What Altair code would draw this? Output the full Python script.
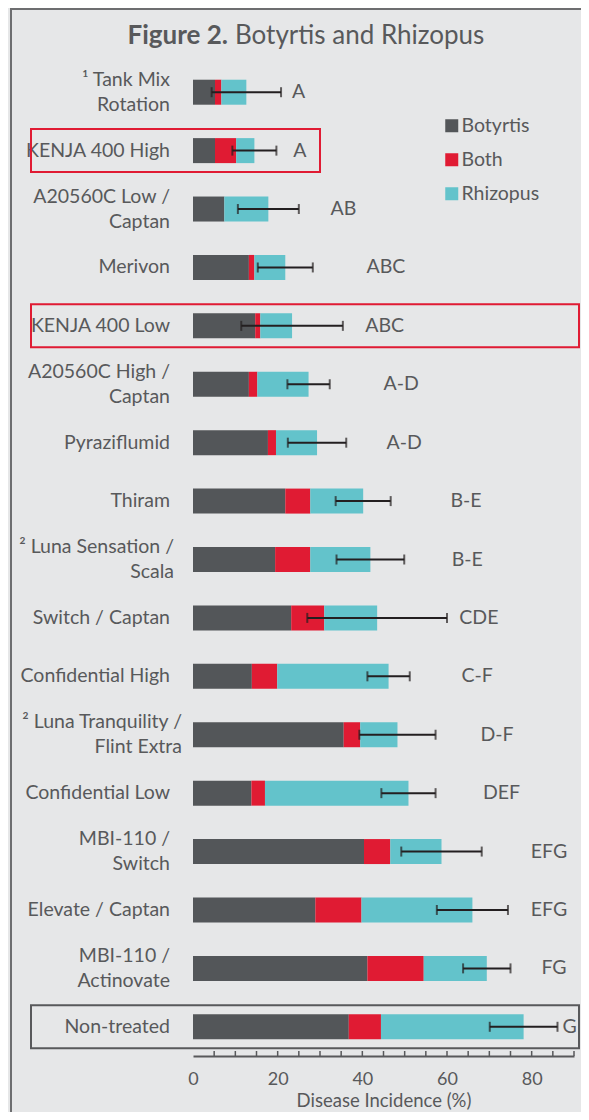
import altair as alt
import pandas as pd

# ---------------- data ----------------
categories = [
    "¹ Tank Mix|Rotation", "KENJA 400 High", "A20560C Low /|Captan", "Merivon",
    "KENJA 400 Low", "A20560C High /|Captan", "Pyraziflumid", "Thiram",
    "² Luna Sensation /|Scala", "Switch / Captan", "Confidential High",
    "² Luna Tranquility /|Flint Extra", "Confidential Low", "MBI-110 /|Switch",
    "Elevate / Captan", "MBI-110 /|Actinovate", "Non-treated",
]
botrytis = [5.2, 5.2, 7.4, 13.2, 14.7, 13.2, 17.7, 21.8, 19.4, 23.2, 13.9, 35.6, 13.8, 40.4, 28.9, 41.2, 36.8]
both = [1.5, 5.0, 0.0, 1.3, 1.2, 2.0, 1.9, 5.9, 8.3, 7.8, 6.0, 3.9, 3.2, 6.2, 10.9, 13.3, 7.6]
rhizopus = [5.9, 4.3, 10.4, 7.3, 7.5, 12.1, 9.7, 12.5, 14.2, 12.5, 26.3, 8.8, 33.9, 12.1, 26.2, 14.9, 33.7]
err = [8.2, 5.2, 7.2, 6.5, 12.0, 5.0, 6.9, 6.5, 8.0, 16.5, 5.0, 9.0, 6.4, 9.5, 8.4, 5.6, 8.0]
letters = ["A", "A", "AB", "ABC", "ABC", "A-D", "A-D", "B-E", "B-E", "CDE", "C-F", "D-F", "DEF", "EFG", "EFG", "FG", "G"]
letter_x = [23.4, 23.7, 32.5, 41.0, 40.7, 45.0, 45.7, 60.8, 61.1, 62.9, 63.4, 67.9, 68.5, 79.8, 79.8, 82.3, 87.3]
series = ["Botyrtis", "Both", "Rhizopus"]
colors = ["#535659", "#e01b33", "#63c3cb"]
label_values = [0, 20, 40, 60, 80]
minor_ticks = [5, 10, 15, 20, 25, 30, 35, 40, 45, 50, 55, 60, 65, 70, 75, 80, 85, 90]
red_boxes_short = ["KENJA 400 High"]
red_boxes_long = ["KENJA 400 Low"]
gray_boxes = ["Non-treated"]
luna_a = ["² Luna Sensation /|Scala"]
luna_b = ["² Luna Tranquility /|Flint Extra"]

# ---------------- tables ----------------
rows = []
for i, c in enumerate(categories):
    for k, (s, v) in enumerate(zip(series, [botrytis[i], both[i], rhizopus[i]])):
        rows.append({"cat": c, "series": s, "value": v, "ord": k})
long_df = pd.DataFrame(rows)

summary = pd.DataFrame({"cat": categories, "letter": letters, "lx": letter_x})
summary["total"] = [b + o + r for b, o, r in zip(botrytis, both, rhizopus)]
summary["lo"] = summary["total"] - pd.Series(err)
summary["hi"] = summary["total"] + pd.Series(err)

ticks_df = pd.DataFrame({"t": minor_ticks})
one = pd.DataFrame({"k": [0]})

W, H = 381, 993
TXT = "#58595b"
FONT = "Lato"
FS = 19.5

yscale = alt.Scale(domain=categories, paddingInner=0.57, paddingOuter=0.285)
xscale = alt.Scale(domain=[0, 90], nice=False, zero=True)

xaxis = alt.Axis(values=label_values, ticks=False, grid=False,
                 domainColor=TXT, domainWidth=2, labelFlush=False,
                 labelFontSize=18, labelColor=TXT, labelFont=FONT,
                 labelPadding=14, titleFontSize=18.5,
                 titleFontWeight="normal", titleColor=TXT,
                 titleFont=FONT, titlePadding=3)
XTITLE = "Disease Incidence (%)"


def Y():
    return alt.Y("cat:N", sort=categories, scale=yscale, title=None, axis=None)


def X(field, **kw):
    return alt.X(field, scale=xscale, title=XTITLE, axis=xaxis, **kw)


bars = alt.Chart(long_df).mark_bar(size=25).encode(
    y=Y(),
    x=X("value:Q", stack="zero"),
    color=alt.Color("series:N", scale=alt.Scale(domain=series, range=colors),
                    legend=alt.Legend(orient="none", legendX=249, legendY=53,
                                      title=None, symbolType="square",
                                      symbolSize=169, symbolStrokeWidth=0,
                                      labelFontSize=FS, labelFont=FONT,
                                      labelColor=TXT, rowPadding=13,
                                      labelOffset=0)),
    order=alt.Order("ord:Q"),
)

# category labels (one- and two-line)
two_line = "indexof(datum.cat, '|') >= 0"
lab_one = alt.Chart(summary).transform_filter(
    "indexof(datum.cat, '|') < 0"
).mark_text(align="right", baseline="middle", fontSize=FS, font=FONT,
            color=TXT).encode(y=Y(), x=alt.value(-23), text="cat:N")
lab_two = alt.Chart(summary).transform_filter(two_line).transform_filter(
    ~alt.FieldOneOfPredicate(field="cat", oneOf=luna_a + luna_b)
).mark_text(align="right", baseline="middle", fontSize=FS, font=FONT,
            color=TXT, lineBreak="|", lineHeight=25, dy=-12.5).encode(
    y=Y(), x=alt.value(-23), text="cat:N")
lab_luna_a = alt.Chart(summary).transform_filter(
    alt.FieldOneOfPredicate(field="cat", oneOf=luna_a)
).mark_text(align="right", baseline="middle", fontSize=FS, font=FONT,
            color=TXT, lineBreak="|", lineHeight=25, dy=-12.5).encode(
    y=Y(), x=alt.value(-19), text="cat:N")
lab_luna_b = alt.Chart(summary).transform_filter(
    alt.FieldOneOfPredicate(field="cat", oneOf=luna_b)
).mark_text(align="right", baseline="middle", fontSize=FS, font=FONT,
            color=TXT, lineBreak="|", lineHeight=25, dy=-12.5).encode(
    y=Y(), x=alt.value(-11), text="cat:N")

err_rule = alt.Chart(summary).mark_rule(color="#231f20", strokeWidth=2).encode(
    y=Y(), x=X("lo:Q"), x2="hi:Q")
cap_lo = alt.Chart(summary).mark_tick(color="#231f20", thickness=2, size=10).encode(
    y=Y(), x=X("lo:Q"))
cap_hi = alt.Chart(summary).mark_tick(color="#231f20", thickness=2, size=10).encode(
    y=Y(), x=X("hi:Q"))

letter_txt = alt.Chart(summary).mark_text(align="left", baseline="middle",
                                          fontSize=FS, font=FONT, color=TXT).encode(
    y=Y(), x=X("lx:Q"), text="letter:N")

box_red1 = alt.Chart(summary).transform_filter(
    alt.FieldOneOfPredicate(field="cat", oneOf=red_boxes_short)
).mark_bar(size=43, fillOpacity=0, stroke="#e01b33", strokeWidth=2).encode(
    y=Y(), x=alt.value(-162), x2=alt.value(127))
box_red2 = alt.Chart(summary).transform_filter(
    alt.FieldOneOfPredicate(field="cat", oneOf=red_boxes_long)
).mark_bar(size=43, fillOpacity=0, stroke="#e01b33", strokeWidth=2).encode(
    y=Y(), x=alt.value(-162), x2=alt.value(386))
box_gray = alt.Chart(summary).transform_filter(
    alt.FieldOneOfPredicate(field="cat", oneOf=gray_boxes)
).mark_bar(size=43, fillOpacity=0, stroke="#58595b", strokeWidth=2).encode(
    y=Y(), x=alt.value(-162), x2=alt.value(386))

axis_ticks = alt.Chart(ticks_df).mark_rule(color=TXT, strokeWidth=1.5).encode(
    x=X("t:Q"), y=alt.value(H), y2=alt.value(H - 5))

frame_left = alt.Chart(one).mark_rule(color="#6d6e70", strokeWidth=2).encode(
    x=alt.value(-182), y=alt.value(-56), y2=alt.value(H + 60))
frame_top = alt.Chart(one).mark_rule(color="#6d6e70", strokeWidth=2).encode(
    y=alt.value(-54), x=alt.value(-183), x2=alt.value(W + 20))

title_a = alt.Chart(one).mark_text(align="right", baseline="middle", fontSize=26,
                                   fontWeight="bold", font=FONT, color=TXT).encode(
    x=alt.value(35), y=alt.value(-27), text=alt.value("Figure 2."))
title_b = alt.Chart(one).mark_text(align="left", baseline="middle", fontSize=26,
                                   font=FONT, color=TXT).encode(
    x=alt.value(42), y=alt.value(-27), text=alt.value("Botyrtis and Rhizopus"))

chart = alt.layer(
    frame_left, frame_top, bars, err_rule, cap_lo, cap_hi, letter_txt,
    lab_one, lab_two, lab_luna_a, lab_luna_b,
    box_red1, box_red2, box_gray, axis_ticks, title_a, title_b,
).properties(
    width=W, height=H,
    autosize=alt.AutoSizeParams(type="none"),
    padding={"left": 185, "top": 55, "right": 7, "bottom": 56},
    background="#e6e7e8",
).configure_view(stroke=None)

chart.save("out.html", embed_options={"renderer": "svg", "actions": False})
